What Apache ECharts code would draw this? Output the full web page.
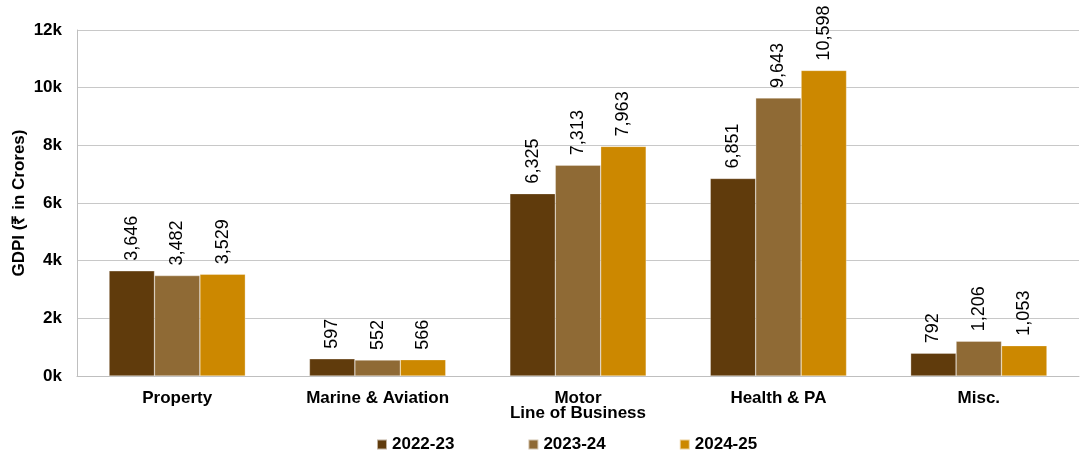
<!DOCTYPE html>
<html>
<head>
<meta charset="utf-8">
<script src="https://cdn.jsdelivr.net/npm/echarts@6/dist/echarts.min.js"></script>
<style>html,body{margin:0;padding:0;background:#fff}#c{width:1081px;height:454px}</style>
</head>
<body>
<div id="c"></div>
<script>
const categories = ['Property', 'Marine & Aviation', 'Motor', 'Health & PA', 'Misc.'];
const seriesNames = ['2022-23', '2023-24', '2024-25'];
const v2022 = [3646, 597, 6325, 6851, 792];
const v2023 = [3482, 552, 7313, 9643, 1206];
const v2024 = [3529, 566, 7963, 10598, 1053];
const colors = ['#603b0c', '#8f6a35', '#cc8800'];

const font = 'Liberation Sans, Arial, sans-serif';
const chart = echarts.init(document.getElementById('c'));
const mk = (name, data, color) => ({
  name, type: 'bar', data, barGap: '0%', barCategoryGap: '32%',
  itemStyle: { color, borderColor: 'rgba(255,255,255,0.6)', borderWidth: 0.5 },
  label: {
    show: true, position: 'top', rotate: 90, align: 'left', verticalAlign: 'middle',
    distance: 10, fontFamily: font, fontSize: 18, color: '#000',
    formatter: p => p.value.toLocaleString('en-US')
  }
});
chart.setOption({
  animation: false,
  color: colors,
  grid: { left: 77, right: 2, top: 30, bottom: 78, containLabel: false, outerBoundsMode: 'none' },
  legend: {
    bottom: 1, left: 376, padding: 0, itemWidth: 10, itemHeight: 10, itemGap: 73,
    icon: 'rect',
    textStyle: { fontFamily: font, fontSize: 17, fontWeight: 'bold', color: '#000' },
    data: seriesNames
  },
  xAxis: {
    type: 'category', data: categories,
    name: 'Line of Business', nameLocation: 'middle', nameGap: 29, nameMoveOverlap: false,
    nameTextStyle: { fontFamily: font, fontSize: 17, fontWeight: 'bold', color: '#000' },
    axisLine: { lineStyle: { color: '#bfbfbf', width: 1 } },
    axisTick: { show: false },
    axisLabel: { fontFamily: font, fontSize: 17, fontWeight: 'bold', color: '#000', margin: 14 }
  },
  yAxis: {
    type: 'value', min: 0, max: 12000, interval: 2000,
    name: 'GDPI (₹ in Crores)', nameLocation: 'middle', nameGap: 49, nameRotate: 90, nameMoveOverlap: false,
    nameTextStyle: { fontFamily: font, fontSize: 17, fontWeight: 'bold', color: '#000' },
    axisLine: { show: true, lineStyle: { color: '#bfbfbf', width: 1 } },
    axisTick: { show: false },
    splitLine: { lineStyle: { color: '#c8c8c8', width: 1 } },
    axisLabel: { fontFamily: font, fontSize: 17, fontWeight: 'bold', color: '#000', margin: 15,
      formatter: v => (v / 1000) + 'k' }
  },
  series: [mk(seriesNames[0], v2022, colors[0]), mk(seriesNames[1], v2023, colors[1]), mk(seriesNames[2], v2024, colors[2])]
});
</script>
</body>
</html>
